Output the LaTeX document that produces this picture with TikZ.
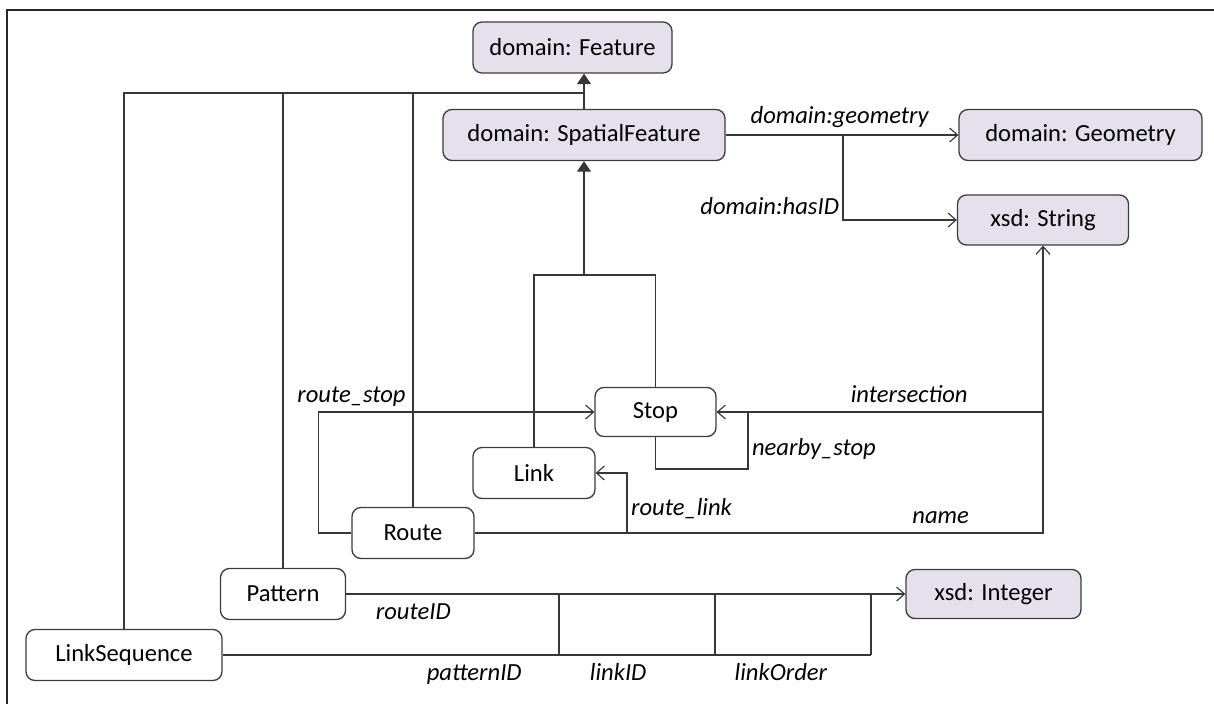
\documentclass[tikz,border=0pt]{standalone}
\usepackage{fontspec}
\setmainfont{Carlito}
\usetikzlibrary{arrows.meta}
\definecolor{classfill}{RGB}{229,224,236}
\definecolor{boxline}{RGB}{60,60,60}
\definecolor{wire}{RGB}{55,55,55}

\begin{document}
\begin{tikzpicture}[x=0.02cm, y=-0.02cm,
  box/.style 2 args={shape=rectangle, rounded corners=0.18cm, draw=boxline, line width=0.75pt,
    minimum width=#1*0.02cm, minimum height=#2*0.02cm, inner sep=0pt, font=\fontsize{14}{16}\selectfont},
  class/.style 2 args={box={#1}{#2}, fill=white},
  dtype/.style 2 args={box={#1}{#2}, fill=classfill},
  wire/.style={draw=wire, line width=0.65pt},
  gen/.style={wire, -{Triangle[length=6pt,width=8pt]}},
  assoc/.style={wire, -{Straight Barb[length=4.5pt,width=8pt]}},
  lbl/.style={font=\fontsize{14}{16}\selectfont\itshape, inner sep=2pt, text height=10pt, text depth=3pt}]
  \useasboundingbox (0,0) rectangle (1214,704);
  \draw[line width=0.9pt, black!85] (1214,10) -- (7,10) -- (7,704);

  \node[dtype={199}{51}] (Feature) at (572.5,47.5) {domain: Feature};
  \node[dtype={282}{51}] (SpatialFeature) at (584,135) {domain: SpatialFeature};
  \node[dtype={243}{51}] (Geometry) at (1080.5,135) {domain: Geometry};
  \node[dtype={171}{50}] (String) at (1043,220) {xsd: String};
  \node[dtype={175}{49}] (Integer) at (993.5,594) {xsd: Integer};
  \node[class={121}{49}] (Stop) at (655.5,412) {Stop};
  \node[class={122}{51}] (Link) at (534,473) {Link};
  \node[class={122}{51}] (Route) at (413,533) {Route};
  \node[class={125}{51}] (Pattern) at (283,594) {Pattern};
  \node[class={196}{51}] (LinkSequence) at (124,655) {LinkSequence};

  % subclass links
  \coordinate (topbar) at (584,93);
  \coordinate (subbar) at (584,275);
  \draw[gen] (SpatialFeature.north) -- (Feature.south -| SpatialFeature.north);
  \draw[wire] (LinkSequence.north) |- (topbar);
  \draw[wire] (Pattern.north) |- (topbar);
  \draw[wire] (Route.north) |- (topbar);
  \draw[gen] (subbar) -- (SpatialFeature.south);
  \draw[wire] (Link.north) |- (subbar);
  \draw[wire] (Stop.north) |- (subbar);

  % properties
  \coordinate (hasid) at (843,135);
  \coordinate (strjoin) at (1043,533);
  \draw[assoc] (SpatialFeature.east) -- node[lbl, above=1pt, pos=0.49] {domain:geometry} (Geometry.west);
  \draw[assoc] (hasid) |- node[lbl, left, pos=0.43] {domain:hasID} (String.west);
  \draw[assoc] (Route.west) -- ++(-33,0) |- node[lbl, above, pos=0.56] {route\_stop} (Stop.west);
  \draw[assoc] (Stop.south) |- (748,469) |- node[lbl, right, pos=0.17] {nearby\_stop} (Stop.east);
  \draw[assoc] (Route.east) -| node[lbl, right, pos=0.7] {route\_link} (627,473) -- (Link.east);
  \draw[assoc] (Route.east) -- node[lbl, above, pos=0.82] {name} (strjoin) -- (String.south);
  \draw[wire] (Stop.east) -- node[lbl, above, pos=0.59] {intersection} (Stop.east -| strjoin);

  \draw[assoc] (Pattern.east) -- node[lbl, below=2pt, pos=0.12] {routeID} (Integer.west);
  \draw[wire] (LinkSequence.east) -- node[lbl, below=2pt, pos=0.388] {patternID}
    node[lbl, below=2pt, pos=0.61] {linkID}
    node[lbl, below=2pt, pos=0.861] {linkOrder} (871,655);
  \foreach \px in {559,715,871}
    \draw[wire] (\px,655) -- (\px,594);
\end{tikzpicture}
\end{document}
